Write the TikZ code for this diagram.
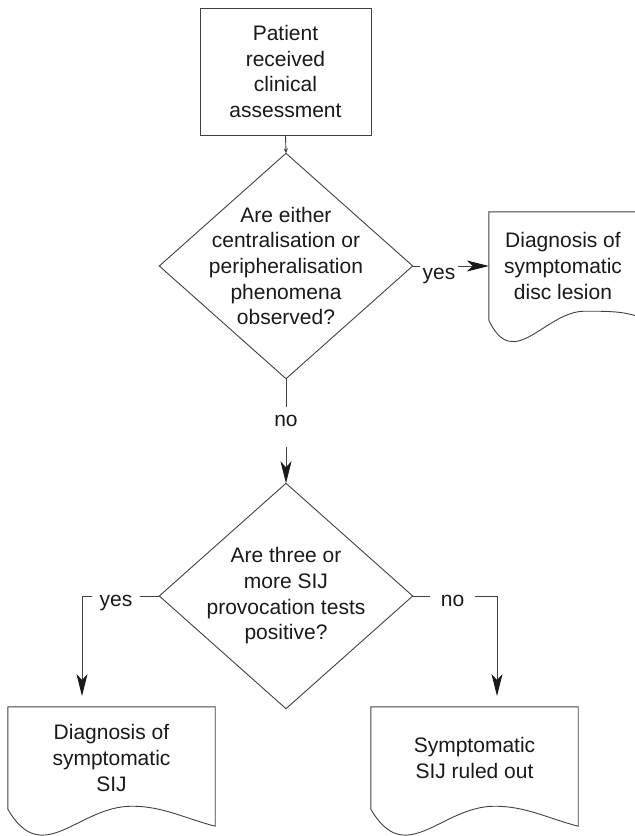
\documentclass[tikz,border=0pt]{standalone}
\usepackage{fontspec}
\setmainfont{Liberation Sans}
\usetikzlibrary{arrows.meta,calc}
\begin{document}
\begin{tikzpicture}[x=1pt,y=-1pt,
  line/.style={draw=black!75, line width=0.9pt},
  arr/.style={line, -{Stealth[length=22pt,width=11pt,inset=6pt,color=black!90]}},
  txt/.style={font=\fontsize{21}{25.7}\selectfont, text=black!90, align=center},
  box/.style={txt, line, rectangle, minimum width=171pt, minimum height=127pt, inner sep=0pt},
  dec/.style={txt, rectangle, minimum width=253pt, minimum height=225pt, inner sep=0pt},
  doc/.style={txt, rectangle, inner sep=0pt},
  lbl/.style={txt, inner ysep=0pt}
]
\useasboundingbox (0,0) rectangle (635,836);
\clip (0,0) rectangle (635,836);

% nodes
\node[box] (start) at (285.5,71.5) {Patient\\received\\clinical\\assessment};
\node[dec] (d1) at (286,266) {Are either\\centralisation or\\peripheralisation\\phenomena\\observed?};
\draw[line] (d1.north) -- (d1.east) -- (d1.south) -- (d1.west) -- cycle;

\node[doc, minimum width=148pt, minimum height=108pt] (disc) at (563,266) {Diagnosis of\\symptomatic\\disc lesion};
\draw[line] (disc.south west) -- (disc.north west) -- (disc.north east) -- ($(disc.south east)+(0,-4)$)
  .. controls +(-15,-5) and +(22,0) .. ($(disc.south west)+(96,-9)$)
  .. controls +(-40,0) and +(25,53) .. (disc.south west);

\node[dec] (d2) at (286,596) {Are three or\\more SIJ\\provocation tests\\positive?};
\draw[line] (d2.north) -- (d2.east) -- (d2.south) -- (d2.west) -- cycle;

\node[doc, minimum width=207pt, minimum height=102pt] (sij) at (111.5,758) {Diagnosis of\\symptomatic\\SIJ};
\draw[line] (sij.south west) -- (sij.north west) -- (sij.north east) -- ($(sij.south east)+(0,17)$)
  .. controls +(-31,-8) and +(31,0) .. ($(sij.south west)+(124,-3)$)
  .. controls +(-54,0) and +(35,60) .. (sij.south west);

\node[doc, minimum width=207pt, minimum height=102pt] (out) at (474.5,758) {Symptomatic\\SIJ ruled out};
\draw[line] (out.south west) -- (out.north west) -- (out.north east) -- ($(out.south east)+(0,17)$)
  .. controls +(-31,-8) and +(31,0) .. ($(out.south west)+(124,-3)$)
  .. controls +(-54,0) and +(35,60) .. (out.south west);

% connectors
\draw[line, -{Stealth[length=5pt,width=4pt]}] (start.south) -- (d1.north);

\node[lbl, text height=26pt, text depth=0pt, inner xsep=2.5pt] (y1) at (439,266) {yes};
\draw[line] (d1.east) -- (y1.west);
\draw[arr] (y1.east) -- (disc.west);

\node[lbl, text height=11pt, text depth=12pt, inner xsep=2pt, inner ysep=8pt] (n1) at (286,427) {no};
\draw[line] (d1.south) -- (n1.north);
\draw[arr] (n1.south) -- (d2.north);

\node[lbl, text height=20pt, text depth=0pt, inner xsep=7.6pt] (y2) at (116,596) {yes};
\coordinate (t1) at (82,696);
\draw[line] (d2.west) -- (y2.east);
\draw[arr] (y2.west) -| (t1);

\node[lbl, text height=20pt, text depth=0pt, inner xsep=10.8pt] (n2) at (452.5,596) {no};
\coordinate (t2) at (497,696);
\draw[line] (d2.east) -- (n2.west);
\draw[arr] (n2.east) -| (t2);
\end{tikzpicture}
\end{document}
